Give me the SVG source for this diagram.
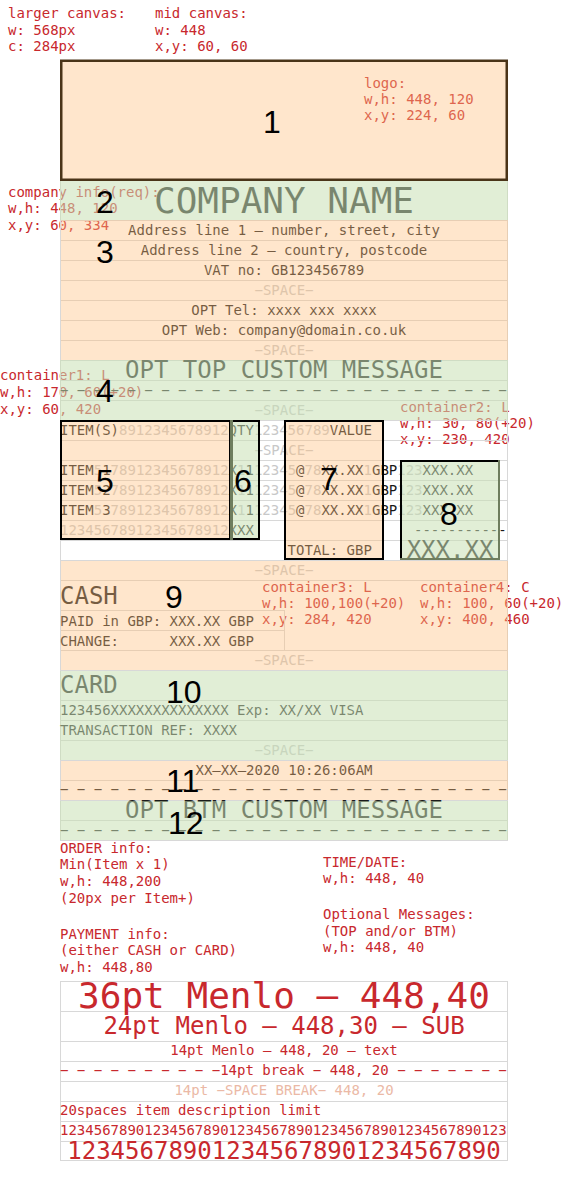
<svg xmlns="http://www.w3.org/2000/svg" width="568" height="1200" viewBox="0 0 568 1200">
<style>
.m{font-family:"DejaVu Sans Mono","Liberation Mono",monospace;font-size:14px}
.ann{fill:#c8282d}
.dk{fill:#1a1a1a}
.fd{fill:#c8c8c8}
.s24{font-size:24px}
.s36{font-size:36px}
.mid{text-anchor:middle}
.num{font-family:"Liberation Sans",Arial,sans-serif;font-size:32px;fill:#000}
.pch{fill:#ffc180;fill-opacity:0.4}
.grn{fill:#c8e0b4;fill-opacity:0.55}
.box{fill:none;stroke:#000;stroke-width:2}
.gedge{stroke:#6e7d5e;stroke-width:3;fill:none}
.lgd{fill:#c8282d}
</style>
<rect x="0" y="0" width="568" height="1200" fill="#fff"/>

<g id="annotations" class="m ann">
<text x="8" y="18">larger canvas:</text>
<text x="8" y="34.5">w: 568px</text>
<text x="8" y="51">c: 284px</text>
<text x="155" y="18">mid canvas:</text>
<text x="155" y="34.5">w: 448</text>
<text x="155" y="51">x,y: 60, 60</text>
<text x="364" y="88">logo:</text>
<text x="364" y="104">w,h: 448, 120</text>
<text x="364" y="120">x,y: 224, 60</text>
<text x="8" y="197">company info(req):</text>
<text x="8" y="213">w,h: 448, 120</text>
<text x="8" y="230">x,y: 60, 334</text>
<text x="0" y="380">container1: L</text>
<text x="0" y="397">w,h: 170, 60(+20)</text>
<text x="0" y="414">x,y: 60, 420</text>
<text x="400" y="412">container2: L</text>
<text x="400" y="428">w,h: 30, 80(+20)</text>
<text x="400" y="444">x,y: 230, 420</text>
<text x="262" y="592">container3: L</text>
<text x="262" y="608">w,h: 100,100(+20)</text>
<text x="262" y="624">x,y: 284, 420</text>
<text x="420" y="592">container4: C</text>
<text x="420" y="608">w,h: 100, 60(+20)</text>
<text x="420" y="624">x,y: 400, 460</text>
<text x="60" y="853">ORDER info:</text>
<text x="60" y="869">Min(Item x 1)</text>
<text x="60" y="886">w,h: 448,200</text>
<text x="60" y="903">(20px per Item+)</text>
<text x="60" y="939">PAYMENT info:</text>
<text x="60" y="955">(either CASH or CARD)</text>
<text x="60" y="972">w,h: 448,80</text>
<text x="323" y="867">TIME/DATE:</text>
<text x="323" y="883">w,h: 448, 40</text>
<text x="323" y="919">Optional Messages:</text>
<text x="323" y="936">(TOP and/or BTM)</text>
<text x="323" y="952">w,h: 448, 40</text>
</g>

<g id="grid" fill="none" stroke="#d8d8d8" stroke-width="1">
<path d="M60 220.5H508M60 240.5H508M60 260.5H508M60 280.5H508M60 300.5H508M60 320.5H508M60 340.5H508M60 360.5H508M60 380.5H508M60 400.5H508M60 420.5H508M60 440.5H508M60 460.5H508M60 480.5H508M60 500.5H508M60 520.5H508M60 540.5H508M60 560.5H508M60 580.5H508M60 650.5H508M60 670.5H508M60 700.5H508M60 720.5H508M60 740.5H508M60 760.5H508M60 780.5H508M60 800.5H508M60 820.5H508M60 840.5H508M60 610.5H284M60 630.5H284M284.5 610V650M60.5 180V841M507.5 180V841"/>
<path d="M60 981.5H508M60 1011.5H508M60 1041.5H508M60 1061.5H508M60 1081.5H508M60 1101.5H508M60 1121.5H508M60 1141.5H508M60 1160.5H508M60.5 981V1161M507.5 981V1161"/>
</g>

<g id="logo">
<rect class="pch" x="61" y="61" width="446" height="118"/>
<rect x="61.25" y="60.75" width="445.5" height="119" fill="none" stroke="#4a3418" stroke-width="2.5"/>
<text class="num" x="263" y="133">1</text>
</g>

<g id="company-name">
<text class="m s36 mid dk" x="284" y="213">COMPANY NAME</text>
<rect class="grn" x="60" y="181" width="448" height="39"/>
<text class="num" x="96" y="213">2</text>
</g>

<g id="company-details">
<g class="m mid">
<text class="dk" x="284" y="235">Address line 1 – number, street, city</text>
<text class="dk" x="284" y="255">Address line 2 – country, postcode</text>
<text class="dk" x="284" y="275">VAT no: GB123456789</text>
<text class="fd" x="284" y="295">−SPACE−</text>
<text class="dk" x="284" y="315">OPT Tel: xxxx xxx xxxx</text>
<text class="dk" x="284" y="335">OPT Web: company@domain.co.uk</text>
<text class="fd" x="284" y="355">−SPACE−</text>
</g>
<rect class="pch" x="61" y="220" width="447" height="140"/>
<text class="num" x="96" y="263">3</text>
</g>

<g id="top-message">
<text class="m s24 mid dk" x="284" y="378">OPT TOP CUSTOM MESSAGE</text>
<text class="m dk" x="60" y="395">− − − − − − − − − − − − − − − − − − − − − − − − − − −</text>
<text class="m mid fd" x="284" y="415">−SPACE−</text>
<rect class="grn" x="60" y="360" width="448" height="60"/>
<text class="num" x="96" y="402">4</text>
</g>

<g id="order-rows" class="m">
<text x="60" y="435"><tspan class="dk">ITEM(S)</tspan><tspan class="fd">8912345678912</tspan><tspan class="dk">QTY</tspan><tspan class="fd">123456789</tspan><tspan class="dk">VALUE</tspan></text>
<text class="mid fd" x="284" y="455">−SPACE−</text>
<text x="60" y="475"><tspan class="dk">ITEM</tspan><tspan class="fd">5</tspan><tspan class="dk">1</tspan><tspan class="fd">78912345678912</tspan><tspan class="dk">X</tspan><tspan class="fd">1</tspan><tspan class="dk">1</tspan><tspan class="fd">12345</tspan><tspan class="dk">@</tspan><tspan class="fd">78</tspan><tspan class="dk">XX.XX</tspan><tspan class="fd">1</tspan><tspan class="dk">GBP</tspan><tspan class="fd">123</tspan><tspan class="dk">XXX.XX</tspan></text>
<text x="60" y="495"><tspan class="dk">ITEM</tspan><tspan class="fd">5</tspan><tspan class="dk">2</tspan><tspan class="fd">78912345678912</tspan><tspan class="dk">X</tspan><tspan class="fd">1</tspan><tspan class="dk">1</tspan><tspan class="fd">12345</tspan><tspan class="dk">@</tspan><tspan class="fd">78</tspan><tspan class="dk">XX.XX</tspan><tspan class="fd">1</tspan><tspan class="dk">GBP</tspan><tspan class="fd">123</tspan><tspan class="dk">XXX.XX</tspan></text>
<text x="60" y="515"><tspan class="dk">ITEM</tspan><tspan class="fd">5</tspan><tspan class="dk">3</tspan><tspan class="fd">78912345678912</tspan><tspan class="dk">X</tspan><tspan class="fd">1</tspan><tspan class="dk">1</tspan><tspan class="fd">12345</tspan><tspan class="dk">@</tspan><tspan class="fd">78</tspan><tspan class="dk">XX.XX</tspan><tspan class="fd">1</tspan><tspan class="dk">GBP</tspan><tspan class="fd">123</tspan><tspan class="dk">XXX.XX</tspan></text>
<text x="60" y="535"><tspan class="fd">12345678912345678912</tspan><tspan class="dk">XXX</tspan></text>
<text class="dk" x="414" y="535">-----------</text>
<text class="dk" x="287.6" y="555">TOTAL: GBP</text>
<text class="dk s24 mid" x="450" y="558">XXX.XX</text>
</g>

<g id="container1">
<rect class="pch" x="61" y="421" width="169" height="118"/>
<rect class="box" x="61" y="421" width="169" height="118"/>
<text class="num" x="96" y="492">5</text>
</g>

<g id="container2">
<rect class="grn" x="231" y="421" width="28" height="118"/>
<rect class="box" x="230" y="421" width="29" height="118"/>
<path class="gedge" d="M231.5 420V540"/>
<text class="num" x="234" y="492">6</text>
</g>

<g id="container3">
<rect class="pch" x="285" y="421" width="98" height="138"/>
<rect class="box" x="285" y="421" width="98" height="138"/>
<text class="num" x="320" y="490">7</text>
</g>

<g id="container4">
<rect class="grn" x="401" y="461" width="98" height="98"/>
<rect class="box" x="401" y="461" width="98" height="98"/>
<path d="M499 460V560M400 559H500" fill="none" stroke="#6e7d5e" stroke-width="2"/>
<text class="num" x="440" y="525">8</text>
</g>

<g id="cash">
<text class="m s24 dk" x="60" y="604">CASH</text>
<text class="m mid fd" x="284" y="575">−SPACE−</text>
<text class="m dk" x="60" y="626">PAID in GBP: XXX.XX GBP</text>
<text class="m dk" x="60" y="646">CHANGE:</text>
<text class="m dk" x="169.6" y="646">XXX.XX GBP</text>
<text class="m mid fd" x="284" y="665">−SPACE−</text>
<rect class="pch" x="61" y="561" width="447" height="109"/>
<text class="num" x="165" y="608">9</text>
</g>

<g id="card">
<text class="m s24 dk" x="60" y="693">CARD</text>
<text class="m dk" x="60" y="715">123456XXXXXXXXXXXXXX Exp: XX/XX VISA</text>
<text class="m dk" x="60" y="735">TRANSACTION REF: XXXX</text>
<text class="m mid fd" x="284" y="755">−SPACE−</text>
<rect class="grn" x="60" y="671" width="448" height="89"/>
<text class="num" x="166" y="703">10</text>
</g>

<g id="time-date">
<text class="m mid dk" x="284" y="775">XX–XX–2020 10:26:06AM</text>
<text class="m dk" x="60" y="794">− − − − − − − − − − − − − − − − − − − − − − − − − − −</text>
<rect class="pch" x="61" y="761" width="447" height="39"/>
<text class="num" x="166" y="792">11</text>
</g>

<g id="btm-message">
<text class="m s24 mid dk" x="284" y="818">OPT BTM CUSTOM MESSAGE</text>
<text class="m dk" x="60" y="835">− − − − − − − − − − − − − − − − − − − − − − − − − − −</text>
<rect class="grn" x="60" y="801" width="448" height="39"/>
<text class="num" x="168" y="834">12</text>
</g>

<g id="legend" class="m lgd">
<text class="s36 mid" x="284" y="1008">36pt Menlo – 448,40</text>
<text class="s24 mid" x="284" y="1034">24pt Menlo – 448,30 – SUB</text>
<text class="mid" x="284" y="1055">14pt Menlo – 448, 20 – text</text>
<text x="60" y="1075">− − − − − − − − − −14pt break − 448, 20 − − − − − − −</text>
<text class="mid" x="284" y="1095" style="fill:#ebb9a6">14pt −SPACE BREAK− 448, 20</text>
<text x="60" y="1115">20spaces item description limit</text>
<text x="60" y="1135">12345678901234567890123456789012345678901234567890123</text>
<text class="s24 mid" x="284" y="1159">123456789012345678901234567890</text>
</g>

<g id="connectors"/>
</svg>
